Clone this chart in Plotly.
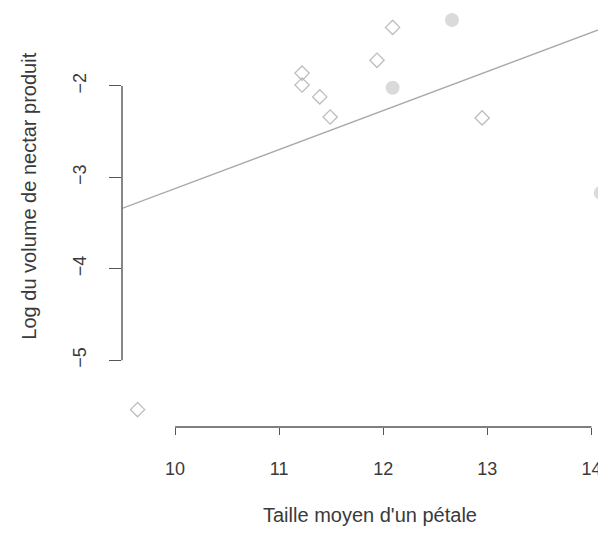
import plotly.graph_objects as go

# open diamonds
petal = [11.22, 11.22, 11.39, 11.49, 11.94, 12.09, 12.95, 9.64]
nectar = [-1.86, -1.99, -2.12, -2.34, -1.72, -1.36, -2.35, -5.54]
# faint filled points
petal_f = [12.09, 12.66, 14.09]
nectar_f = [-2.02, -1.28, -3.17]
# fitted line end points
fit_x = [9.49, 14.2]
fit_y = [-3.34, -1.33]

x_ticks = [10, 11, 12, 13, 14]
y_ticks = [-5, -4, -3, -2]

axis_col = "#555555"
tick_font = dict(family="Liberation Sans, Arial", size=18, color="#3a3a3a")
title_font = dict(family="Liberation Sans, Arial", size=20, color="#3a3a3a")

fig = go.Figure()
fig.add_trace(go.Scatter(x=fit_x, y=fit_y, mode="lines", line=dict(color="#a8a8a8", width=1.4)))
fig.add_trace(go.Scatter(x=petal, y=nectar, mode="markers",
                         marker=dict(symbol="diamond-open", size=11, color="#bdbdbd", line=dict(width=1.3))))
fig.add_trace(go.Scatter(x=petal_f, y=nectar_f, mode="markers",
                         marker=dict(symbol="circle", size=14, color="#dadada")))

# R-style axis lines spanning only the ticks
fig.add_shape(type="line", xref="x", yref="paper", x0=x_ticks[0], x1=x_ticks[-1], y0=0, y1=0,
              line=dict(color=axis_col, width=1.4))
fig.add_shape(type="line", xref="paper", yref="y", x0=0, x1=0, y0=y_ticks[0], y1=y_ticks[-1],
              line=dict(color=axis_col, width=1.4))

# page has an 8px body margin; keep the figure small enough to avoid scrollbars
fig.update_layout(
    width=598, height=518,
    margin=dict(l=114, r=0, t=0, b=99),
    plot_bgcolor="white", paper_bgcolor="white",
    showlegend=False,
    font=tick_font,
    annotations=[
        dict(text="Taille moyen d'un pétale", xref="paper", yref="paper", x=0.512, y=-0.21,
             xanchor="center", yanchor="middle", showarrow=False, font=title_font),
        dict(text="Log du volume de nectar produit", xref="paper", yref="paper", x=-0.194, y=0.55,
             xanchor="center", yanchor="middle", textangle=-90, showarrow=False, font=title_font),
    ],
)
fig.update_xaxes(range=[9.49, 14.14], tickvals=x_ticks, ticks="outside", ticklen=7,
                 tickcolor=axis_col, showgrid=False, zeroline=False, showline=False,
                 tickfont=tick_font, ticklabelstandoff=18, ticklabeloverflow="allow")
fig.update_yaxes(range=[-5.73, -1.148], tickvals=y_ticks, ticks="outside", ticklen=12,
                 tickcolor=axis_col, showgrid=False, zeroline=False, showline=False,
                 tickangle=-90, tickfont=tick_font, ticklabelstandoff=16)

fig.write_html("out.html")
